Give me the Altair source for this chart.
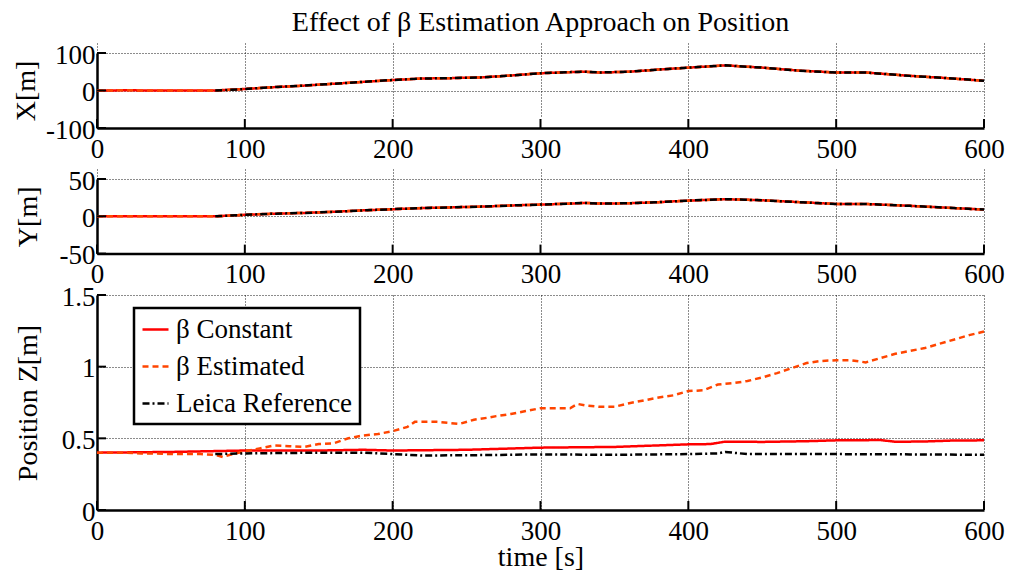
import altair as alt
import pandas as pd

FONT = "Liberation Serif"

# ---------------- data ----------------
series_names = ["β Constant", "β Estimated", "Leica Reference"]
series_colors = ["#ff0000", "#ff4500", "#000000"]
series_dashes = [[1, 0], [6, 4], [7, 3, 2, 3]]

x_ticks = [0, 100, 200, 300, 400, 500, 600]
xpos_ticks = [-100, 0, 100]
ypos_ticks = [-50, 0, 50]
zpos_ticks = [0, 0.5, 1, 1.5]

t_xy = [0, 20, 40, 60, 80, 100, 120, 140, 160, 180, 200, 220, 240, 260, 280,
        300, 320, 330, 340, 360, 380, 400, 425, 450, 475, 500, 520, 550, 575, 600]
x_pos = [0, 0.5, 0, 0, 0, 4, 9, 13, 18, 23, 28, 32, 33, 35, 40,
         46, 49, 50, 48, 50, 56, 61, 67, 61, 53, 48, 48, 39, 33, 26]
y_pos = [0, 0, 0, 0, 0, 2, 3.5, 4.5, 6, 8, 9.5, 11, 12, 13, 14.5,
         15.7, 17, 18, 17, 17.5, 19, 21, 23, 21.5, 19, 16.5, 16.5, 14, 11.5, 9]
leica_start = 80

t_const = [0, 50, 100, 150, 180, 200, 250, 300, 350, 400, 415, 425, 450, 480,
           500, 530, 540, 560, 580, 600]
z_const = [0.40, 0.405, 0.415, 0.415, 0.42, 0.415, 0.42, 0.435, 0.44, 0.458,
           0.46, 0.477, 0.475, 0.48, 0.486, 0.488, 0.476, 0.478, 0.485, 0.486]

t_est = [0, 10, 20, 30, 40, 50, 60, 70, 80, 85, 90, 100, 110, 120, 130, 140,
         150, 160, 170, 180, 190, 200, 210, 215, 230, 245, 255, 265, 270, 280,
         290, 300, 310, 320, 325, 330, 340, 350, 360, 370, 380, 390, 400, 410,
         420, 430, 440, 450, 460, 470, 480, 490, 500, 510, 520, 530, 540, 550,
         560, 570, 580, 590, 600]
z_est = [0.40, 0.40, 0.40, 0.395, 0.395, 0.39, 0.39, 0.39, 0.385, 0.37, 0.385,
         0.41, 0.43, 0.45, 0.445, 0.44, 0.46, 0.465, 0.50, 0.52, 0.53, 0.55,
         0.58, 0.615, 0.615, 0.60, 0.63, 0.645, 0.655, 0.67, 0.69, 0.71, 0.71,
         0.71, 0.74, 0.73, 0.72, 0.72, 0.745, 0.765, 0.785, 0.80, 0.83, 0.835,
         0.875, 0.885, 0.90, 0.925, 0.955, 0.99, 1.025, 1.04, 1.045, 1.045,
         1.03, 1.06, 1.09, 1.11, 1.13, 1.16, 1.19, 1.22, 1.245]

t_leica = [80, 100, 150, 180, 200, 220, 260, 300, 350, 400, 420, 425, 440, 500, 550, 600]
z_leica = [0.39, 0.395, 0.40, 0.40, 0.39, 0.38, 0.383, 0.388, 0.385, 0.39, 0.395,
           0.405, 0.39, 0.39, 0.388, 0.385]

# ---------------- helpers ----------------
W = 887


def long_df(parts):
    rows = []
    for name, ts, vs in parts:
        for t, v in zip(ts, vs):
            rows.append({"t": t, "v": v, "s": name})
    return pd.DataFrame(rows)


def xy_df(vals):
    t_l = [t for t in t_xy if t >= leica_start]
    v_l = [v for t, v in zip(t_xy, vals) if t >= leica_start]
    return long_df([(series_names[0], t_xy, vals),
                    (series_names[1], t_xy, vals),
                    (series_names[2], t_l, v_l)])


def panel(df, yticks, ydomain, ytitle, h, extra, title_x, legend, xtitle):
    total_h = h + extra
    x_axis = dict(values=x_ticks, labelFlush=False, labelOverlap=False)
    if xtitle:
        x_axis.update(title=xtitle, titleY=33, titleBaseline="top")
    else:
        x_axis.update(title="")
    xenc = alt.X("t:Q", scale=alt.Scale(domain=[0, 600], nice=False, zero=False),
                 axis=alt.Axis(**x_axis))
    yenc = alt.Y("v:Q",
                 scale=alt.Scale(domain=ydomain, range=[total_h, extra], nice=False, zero=False),
                 axis=alt.Axis(values=yticks, title=ytitle, titleX=title_x,
                               labelExpr="'' + datum.value", labelPadding=2,
                               labelOverlap=False, labelOffset=2))
    if legend:
        leg = alt.Legend(orient="none", legendX=37, legendY=13, title=None,
                         symbolType="stroke", symbolSize=676, symbolStrokeWidth=2.5,
                         labelFont=FONT, labelFontSize=27, labelColor="black",
                         labelOffset=6, labelLimit=400, rowPadding=9, padding=7,
                         strokeColor="black", fillColor="white")
    else:
        leg = None
    color = alt.Color("s:N", scale=alt.Scale(domain=series_names, range=series_colors), legend=leg)
    dash = alt.StrokeDash("s:N", scale=alt.Scale(domain=series_names, range=series_dashes), legend=leg)
    lines = alt.Chart(df).mark_line(strokeWidth=2.5).encode(x=xenc, y=yenc, color=color, strokeDash=dash)

    bt = alt.Chart(pd.DataFrame({"t": x_ticks})).mark_rule(color="black", strokeWidth=2).encode(
        x="t:Q", y=alt.value(total_h), y2=alt.value(total_h - 9))
    lt = alt.Chart(pd.DataFrame({"v": yticks})).mark_rule(color="black", strokeWidth=2).encode(
        y="v:Q", x=alt.value(0), x2=alt.value(9))
    return alt.layer(lines, bt, lt).properties(width=W, height=total_h)


top = panel(xy_df(x_pos), xpos_ticks, [-100, 100], "X[m]", 75, 10, -57, False, None)
mid = panel(xy_df(y_pos), ypos_ticks, [-50, 50], "Y[m]", 74.6, 10, -55, False, None)
bot = panel(long_df([(series_names[0], t_const, z_const),
                     (series_names[1], t_est, z_est),
                     (series_names[2], t_leica, z_leica)]),
            zpos_ticks, [0, 1.5], "Position Z[m]", 215, 0, -55, True, "time [s]")

chart = alt.vconcat(top, mid, bot, spacing=41, bounds="flush").resolve_scale(
    color="independent", strokeDash="independent"
).properties(
    title=alt.Title("Effect of β Estimation Approach on Position", font=FONT, fontSize=28,
                    fontWeight="normal", color="black", anchor="middle", frame="group", offset=4),
    padding={"left": 11, "top": 8, "right": 5, "bottom": 3},
    background="white",
).configure_view(stroke="transparent").configure_axis(
    labelFont=FONT, labelFontSize=27, labelColor="black",
    titleFont=FONT, titleFontSize=28, titleColor="black", titleFontWeight="normal",
    domainColor="black", domainWidth=2.5, gridColor="black", gridDash=[1, 2],
    gridWidth=1, gridOpacity=0.9, ticks=False, labelPadding=8,
).configure_legend(strokeWidth=2.5)

chart.save("out.html", embed_options={"renderer": "svg", "actions": False})
